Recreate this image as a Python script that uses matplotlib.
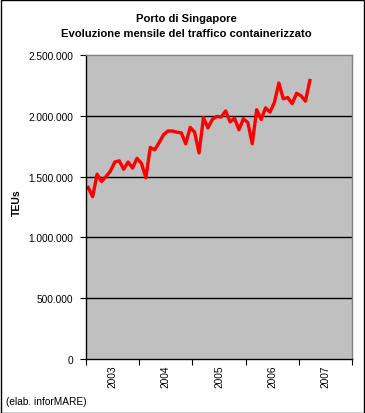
import matplotlib
matplotlib.use("Agg")
import matplotlib.pyplot as plt
from matplotlib.ticker import FuncFormatter, FixedLocator
import numpy as np

plt.rcParams['font.family'] = ['Liberation Sans', 'DejaVu Sans']

# Monthly TEUs, Jan 2003 - Mar 2007
teus = [1410000, 1335000, 1520000, 1460000, 1500000, 1545000, 1620000, 1630000,
        1560000, 1620000, 1570000, 1650000, 1610000, 1490000, 1740000, 1720000,
        1780000, 1845000, 1875000, 1875000, 1865000, 1860000, 1770000, 1905000,
        1865000, 1695000, 1985000, 1900000, 1970000, 1995000, 1990000, 2040000,
        1950000, 1980000, 1885000, 1975000, 1945000, 1770000, 2050000, 1970000,
        2065000, 2030000, 2110000, 2270000, 2140000, 2150000, 2100000, 2185000,
        2165000, 2120000, 2290000]
years = ['2003', '2004', '2005', '2006', '2007']
months_per_year = 12
yticks = [0, 500000, 1000000, 1500000, 2000000, 2500000]

W, H = 365, 414
fig = plt.figure(figsize=(W / 100, H / 100), dpi=100)
fig.patch.set_facecolor('white')
# outer border
fig.add_artist(plt.Rectangle((0.5 / W, 0.5 / H), 1 - 1.5 / W, 1 - 1.5 / H,
                             transform=fig.transFigure, fill=False,
                             edgecolor='black', linewidth=1.0))

left, right, top, bottom = 86, 352, 56, 360
ax = fig.add_axes([left / W, 1 - bottom / H, (right - left) / W, (bottom - top) / H])
ax.set_facecolor('#C0C0C0')

n_cat = len(years) * months_per_year
x = np.arange(len(teus)) + 0.5
ax.plot(x, teus, color='#FF0000', linewidth=2.4, solid_joinstyle='round')

ax.set_xlim(0, n_cat)
ax.set_ylim(0, 2500000)

ax.yaxis.set_major_locator(FixedLocator(yticks))
ax.yaxis.set_major_formatter(FuncFormatter(lambda v, p: f"{int(v):,}".replace(',', '.')))
for v in yticks[1:-1]:
    ax.axhline(v, color='black', linewidth=1.0, zorder=1)

ax.set_xticks(np.arange(0, n_cat + 1, months_per_year))
ax.set_xticklabels([])
ax.set_xticks(np.arange(len(years)) * months_per_year + months_per_year / 2, minor=True)
ax.set_xticklabels(years, minor=True, rotation=90, fontsize=7.3)
ax.tick_params(axis='x', which='minor', length=0, pad=4)
ax.tick_params(axis='x', which='major', length=4, direction='out', width=0.8, color='black')
ax.tick_params(axis='y', length=4, direction='out', width=0.8, labelsize=7.3, pad=5)

for side in ['top', 'right']:
    ax.spines[side].set_color('#808080')
    ax.spines[side].set_linewidth(1.0)
for side in ['left', 'bottom']:
    ax.spines[side].set_color('black')
    ax.spines[side].set_linewidth(1.0)

fig.text(186 / W, 1 - 18.5 / H, 'Porto di Singapore', ha='center', va='center',
         fontsize=8.1, fontweight='bold')
fig.text(186 / W, 1 - 34 / H, 'Evoluzione mensile del traffico containerizzato',
         ha='center', va='center', fontsize=8.1, fontweight='bold')
fig.text(17 / W, 1 - 203 / H, 'TEUs', ha='center', va='center', rotation=90,
         fontsize=7.5, fontweight='bold')
fig.text(6 / W, 1 - 402 / H, '(elab. inforMARE)', ha='left', va='center', fontsize=7.3)

fig.savefig('out.png', dpi=100)
